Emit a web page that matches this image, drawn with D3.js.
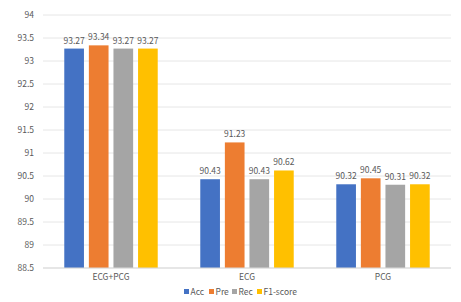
<!DOCTYPE html>
<html>
<head>
<meta charset="utf-8">
<script src="https://cdn.jsdelivr.net/npm/d3@7"></script>
<style>
  body { margin: 0; background: #fff; }
  text { font-family: "Noto Sans CJK SC", "Noto Sans", sans-serif; fill: #595959; }
</style>
</head>
<body>
<svg id="chart"></svg>
<script>
/* data */
const groups = ["ECG+PCG", "ECG", "PCG"];
const metrics = ["Acc", "Pre", "Rec", "F1-score"];
const acc = [93.27, 90.43, 90.32];
const pre = [93.34, 91.23, 90.45];
const rec = [93.27, 90.43, 90.31];
const f1 = [93.27, 90.62, 90.32];
const yTicks = [88.5, 89, 89.5, 90, 90.5, 91, 91.5, 92, 92.5, 93, 93.5, 94];
const colors = ["#4472C4", "#ED7D31", "#A5A5A5", "#FFC000"];

const width = 461, height = 302;
const margin = { top: 15, right: 10, bottom: 34, left: 43 };

const svg = d3.select("#chart").attr("width", width).attr("height", height);

const series = [acc, pre, rec, f1];
const table = groups.map((g, i) => ({ group: g, values: metrics.map((m, j) => ({ metric: m, value: series[j][i] })) }));

/* scales */
const x0 = d3.scaleBand().domain(groups).range([margin.left, width - margin.right]).paddingInner(0).paddingOuter(0);
const x1 = d3.scaleBand().domain(metrics).range([0, x0.bandwidth()]).paddingInner(0.2).paddingOuter(0.865);
const y = d3.scaleLinear().domain([88.5, 94]).range([height - margin.bottom, margin.top]);
const color = d3.scaleOrdinal().domain(metrics).range(colors);

/* gridlines */
svg.append("g").selectAll("line").data(yTicks).enter().append("line")
    .attr("x1", margin.left).attr("x2", width - margin.right)
    .attr("y1", d => y(d)).attr("y2", d => y(d))
    .attr("stroke", "#e6e6e6").attr("stroke-width", 1);

/* y axis */
const yAxis = svg.append("g").attr("transform", `translate(${margin.left},0)`)
    .call(d3.axisLeft(y).tickValues(yTicks).tickSize(0).tickPadding(9).tickFormat(d3.format("")));
yAxis.select(".domain").remove();
yAxis.selectAll("text").attr("font-size", 8.5).style("fill", "#595959");

/* bars */
const g = svg.append("g").selectAll("g").data(table).enter().append("g")
    .attr("transform", d => `translate(${x0(d.group)},0)`);
g.selectAll("rect").data(d => d.values).enter().append("rect")
    .attr("x", d => x1(d.metric)).attr("width", x1.bandwidth())
    .attr("y", d => y(d.value)).attr("height", d => y(88.5) - y(d.value))
    .attr("fill", d => color(d.metric));
g.selectAll("text.val").data(d => d.values).enter().append("text")
    .attr("class", "val")
    .attr("x", d => x1(d.metric) + x1.bandwidth() / 2).attr("y", d => y(d.value) - 5)
    .attr("text-anchor", "middle").attr("font-size", 8.5)
    .text(d => d.value.toFixed(2));

/* x axis baseline + labels */
svg.append("line").attr("x1", margin.left).attr("x2", width - margin.right)
    .attr("y1", y(88.5)).attr("y2", y(88.5)).attr("stroke", "#d9d9d9");
svg.append("g").selectAll("text").data(groups).enter().append("text")
    .attr("x", d => x0(d) + x0.bandwidth() / 2).attr("y", y(88.5) + 12)
    .attr("text-anchor", "middle").attr("font-size", 8.5).text(d => d);

/* legend */
const legendX = [184, 209, 232, 257];
const legend = svg.append("g").selectAll("g").data(metrics).enter().append("g")
    .attr("transform", (d, i) => `translate(${legendX[i]},292)`);
legend.append("rect").attr("x", 0).attr("y", -3).attr("width", 5).attr("height", 5).attr("fill", d => color(d));
legend.append("text").attr("x", 6.5).attr("y", 2.8).attr("font-size", 8.5).text(d => d);
</script>
</body>
</html>
